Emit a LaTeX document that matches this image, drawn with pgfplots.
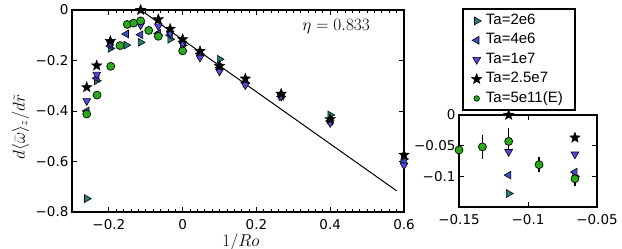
\documentclass[border=0pt]{standalone}
\usepackage{fontspec}
\setmainfont{Liberation Sans}
\newfontfamily\tickfont{DejaVu Sans}
\usepackage{pgfplots}
\pgfplotsset{compat=1.18}

\definecolor{tealc}{RGB}{40,128,122}
\definecolor{bluec}{RGB}{60,80,200}
\definecolor{violc}{RGB}{90,70,225}
\definecolor{greenc}{RGB}{40,170,25}

\pgfdeclareplotmark{fstar}{%
 \pgfpathmoveto{\pgfpointpolar{90}{\pgfplotmarksize}}%
 \pgfpathlineto{\pgfpointpolar{126}{0.42\pgfplotmarksize}}%
 \pgfpathlineto{\pgfpointpolar{162}{\pgfplotmarksize}}%
 \pgfpathlineto{\pgfpointpolar{198}{0.42\pgfplotmarksize}}%
 \pgfpathlineto{\pgfpointpolar{234}{\pgfplotmarksize}}%
 \pgfpathlineto{\pgfpointpolar{270}{0.42\pgfplotmarksize}}%
 \pgfpathlineto{\pgfpointpolar{306}{\pgfplotmarksize}}%
 \pgfpathlineto{\pgfpointpolar{342}{0.42\pgfplotmarksize}}%
 \pgfpathlineto{\pgfpointpolar{18}{\pgfplotmarksize}}%
 \pgfpathlineto{\pgfpointpolar{54}{0.42\pgfplotmarksize}}%
 \pgfpathclose
 \pgfusepathqfillstroke}

\pgfplotsset{
 srt/.style={only marks, mark=triangle*, mark size=4.5pt, mark options={rotate=-90, fill=tealc, draw=black, line width=0.6pt}},
 slt/.style={only marks, mark=triangle*, mark size=4.5pt, mark options={rotate=90, fill=bluec, draw=black, line width=0.6pt}},
 sdt/.style={only marks, mark=triangle*, mark size=4.5pt, mark options={rotate=180, fill=violc, draw=black, line width=0.6pt}},
 sst/.style={only marks, mark=fstar, mark size=5.5pt, mark options={fill=black, draw=black, line width=0.4pt}},
 sgc/.style={only marks, mark=*, mark size=4pt, mark options={fill=greenc, draw=black, line width=0.7pt}},
 myaxis/.style={
   scale only axis, tick align=inside,
   axis line style={line width=1.2pt},
   major tick length=5pt, minor tick length=3pt,
   every tick/.style={black, line width=0.8pt},
   tick label style={font=\tickfont\fontsize{13.5}{14}\selectfont},
   xticklabel style={yshift=-4pt},
 },
}

\pgfplotstableread{
x y
-0.26 -0.747
-0.233 -0.280
-0.196 -0.152
-0.153 -0.139
-0.114 -0.128
-0.066 -0.100
-0.034 -0.116
0 -0.140
0.047 -0.175
0.1 -0.195
0.17 -0.290
0.267 -0.343
0.4 -0.416
0.6 -0.590
}\tatwo

\pgfplotstableread{
x y
-0.26 -0.400
-0.233 -0.270
-0.196 -0.143
-0.153 -0.095
-0.114 -0.098
-0.066 -0.093
-0.034 -0.100
0 -0.125
0.047 -0.172
0.1 -0.228
0.17 -0.287
0.267 -0.342
0.4 -0.440
0.6 -0.600
}\tafour

\pgfplotstableread{
x y
-0.26 -0.360
-0.233 -0.255
-0.196 -0.132
-0.114 -0.060
-0.066 -0.064
-0.034 -0.092
0 -0.132
0.047 -0.188
0.1 -0.243
0.17 -0.297
0.267 -0.342
0.4 -0.447
0.6 -0.615
}\taten

\pgfplotstableread{
x y
-0.26 -0.306
-0.233 -0.220
-0.196 -0.123
-0.114 0
-0.066 -0.037
-0.034 -0.075
0 -0.116
0.047 -0.163
0.1 -0.222
0.17 -0.272
0.267 -0.332
0.4 -0.433
0.6 -0.574
}\tatwentyfive

\pgfplotstableread{
x y e
-0.26 -0.412 0
-0.232 -0.337 0
-0.195 -0.223 0
-0.17 -0.141 0
-0.15 -0.057 0.004
-0.133 -0.052 0.014
-0.114 -0.043 0.016
-0.092 -0.081 0.007
-0.066 -0.104 0.006
0 -0.162 0
}\taexp

\begin{document}
\begin{tikzpicture}
\useasboundingbox (0,0) rectangle (622pt,249pt);
\begin{axis}[myaxis,
  at={(72pt,37pt)}, anchor=south west,
  width=332pt, height=202pt,
  xmin=-0.3, xmax=0.6, ymin=-0.8, ymax=0,
  xtick={-0.2,0,0.2,0.4,0.6}, xticklabels={−0.2,0,0.2,0.4,0.6},
  ytick={-0.8,-0.6,-0.4,-0.2,0}, yticklabels={−0.8,−0.6,−0.4,−0.2,0},
  minor x tick num=9,
  xlabel={$1/Ro$},
  ylabel={$d\langle\bar{\omega}\rangle_z/d\tilde{r}$},
  label style={font=\fontsize{17}{20}\selectfont},
  xlabel style={at={(axis description cs:0.509,-0.149)}, anchor=center},
  ylabel style={at={(axis description cs:-0.155,0.42)}, anchor=center},
  legend style={name=leg, at={(1.1777,1.005)}, anchor=north west, draw=black, fill=white, line width=1pt,
    font=\fontsize{15}{17}\selectfont, inner xsep=8pt, inner ysep=3pt, row sep=2.6pt,
    nodes={inner xsep=4pt, inner ysep=1.5pt, text height=10.5pt, text depth=3.3pt},
    cells={anchor=west}},
]
\addplot[black, line width=1pt, forget plot] coordinates {(-0.114,0) (0.58,-0.716)};
\addplot[srt] table[x=x,y=y] {\tatwo};
\addlegendentry{Ta=2e6}
\addplot[slt] table[x=x,y=y] {\tafour};
\addlegendentry{Ta=4e6}
\addplot[sdt] table[x=x,y=y] {\taten};
\addlegendentry{Ta=1e7}
\addplot[sst] table[x=x,y=y] {\tatwentyfive};
\addlegendentry{Ta=2.5e7}
\addplot[sgc, forget plot] table[x=x,y=y] {\taexp};
\addlegendimage{only marks, mark=*, mark size=2.8pt, mark options={fill=greenc, draw=black, line width=0.6pt}}
\addlegendentry{Ta=5e11(E)}
\node[font=\fontsize{17}{20}\selectfont] at (axis cs:0.416,-0.067) {$\eta=0.833$};
\end{axis}
\draw[line width=1pt] (leg.north west) rectangle (leg.south east);

\begin{axis}[myaxis,
  at={(459pt,42pt)}, anchor=south west,
  width=138pt, height=92pt,
  xmin=-0.15, xmax=-0.05, ymin=-0.15, ymax=0,
  xtick={-0.15,-0.1,-0.05}, xticklabels={−0.15,−0.1,−0.05},
  ytick={-0.1,-0.05,0}, yticklabels={−0.1,−0.05,0},
  restrict x to domain=-0.151:0,
]
\addplot[draw=none, mark=none, error bars/.cd, y dir=both, y explicit,
  error bar style={draw=black, line width=1.3pt},
  error mark options={draw=black, line width=1.3pt, mark size=3.5pt}]
  table[x=x,y=y,y error=e] {\taexp};
\addplot[srt] table[x=x,y=y] {\tatwo};
\addplot[slt] table[x=x,y=y] {\tafour};
\addplot[sdt] table[x=x,y=y] {\taten};
\addplot[sst] table[x=x,y=y] {\tatwentyfive};
\addplot[sgc] table[x=x,y=y] {\taexp};
\end{axis}
\end{tikzpicture}
\end{document}
